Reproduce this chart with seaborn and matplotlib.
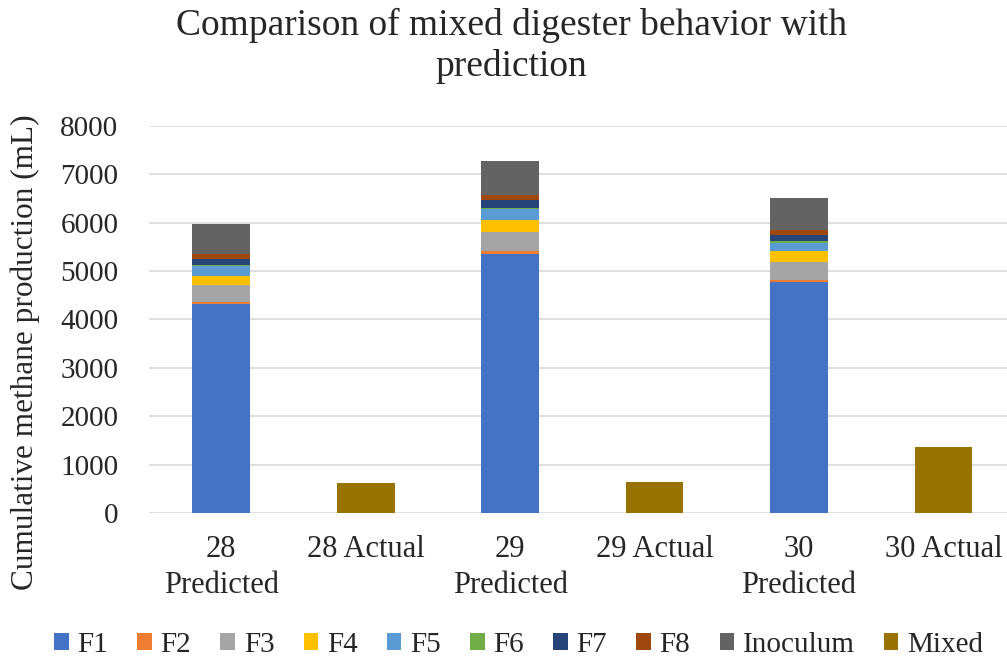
import matplotlib
matplotlib.use("Agg")
import matplotlib.pyplot as plt
from matplotlib.patches import Patch
import numpy as np
import pandas as pd
import seaborn as sns

# Bar categories along the x axis
categories = ["28\nPredicted", "28 Actual", "29\nPredicted", "29 Actual", "30\nPredicted", "30 Actual"]

# Predicted contributions per feedstock (mL), one value per predicted bar (28, 29, 30)
F1 = [4310, 5350, 4770]
F2 = [60, 60, 55]
F3 = [340, 400, 365]
F4 = [185, 235, 215]
F5 = [200, 235, 185]
F6 = [30, 30, 30]
F7 = [115, 155, 130]
F8 = [115, 110, 105]
Inoculum = [610, 700, 665]

# Measured mixed digester production (mL), one value per actual bar
Mixed = [630, 650, 1360]

components = ["F1", "F2", "F3", "F4", "F5", "F6", "F7", "F8", "Inoculum"]
component_values = [F1, F2, F3, F4, F5, F6, F7, F8, Inoculum]
colors = {
    "F1": "#4472C4",
    "F2": "#ED7D31",
    "F3": "#A5A5A5",
    "F4": "#FFC000",
    "F5": "#5B9BD5",
    "F6": "#70AD47",
    "F7": "#264478",
    "F8": "#9E480E",
    "Inoculum": "#636363",
    "Mixed": "#997300",
}

sns.set_style("white")
plt.rcParams["font.family"] = ["Liberation Serif", "DejaVu Serif"]

fig = plt.figure(figsize=(10.07, 6.64), dpi=100)
ax = fig.add_axes([0.148, 0.2274, 0.852, 0.583])

predicted = categories[0::2]
actual = categories[1::2]

# stacked bars: draw cumulative totals, tallest layer first
cum = np.cumsum(np.array(component_values, dtype=float), axis=0)
for i in range(len(components) - 1, -1, -1):
    heights = dict(zip(predicted, cum[i]))
    df = pd.DataFrame({
        "category": categories,
        "value": [heights.get(c, 0.0) for c in categories],
    })
    sns.barplot(data=df, x="category", y="value", order=categories,
                color=colors[components[i]], saturation=1, width=0.4,
                linewidth=0, errorbar=None, ax=ax)

mixed_map = dict(zip(actual, Mixed))
df_mixed = pd.DataFrame({
    "category": categories,
    "value": [mixed_map.get(c, 0.0) for c in categories],
})
sns.barplot(data=df_mixed, x="category", y="value", order=categories,
            color=colors["Mixed"], saturation=1, width=0.4,
            linewidth=0, errorbar=None, ax=ax)

ax.set_xlim(-0.5, 5.44)
ax.set_ylim(0, 8000)
ax.set_yticks(range(0, 8001, 1000))
ax.set_xlabel("")
ax.set_ylabel("")
ax.yaxis.grid(True, color="#D9D9D9", linewidth=1.2)
ax.set_axisbelow(True)
for s in ax.spines.values():
    s.set_visible(False)
ax.tick_params(axis="x", length=0, pad=16, labelsize=22)
ax.tick_params(axis="y", length=0, pad=22, labelsize=21)
for lab in ax.get_xticklabels():
    lab.set_linespacing(1.3)

fig.text(0.508, 1 - 8 / 664, "Comparison of mixed digester behavior with\nprediction",
         ha="center", va="top", fontsize=27, linespacing=1.2)
fig.text(25 / 1007, 1 - 352 / 664, "Cumulative methane production (mL)",
         rotation=90, ha="center", va="center", fontsize=22.5)

handles = [Patch(facecolor=colors[k], edgecolor="none") for k in components + ["Mixed"]]
fig.legend(handles, components + ["Mixed"], loc="center", bbox_to_anchor=(0.515, 0.029),
           ncol=10, frameon=False, fontsize=21, handlelength=0.5, handleheight=0.5,
           handletextpad=0.3, columnspacing=1.0)

fig.savefig("out.png", dpi=100)
